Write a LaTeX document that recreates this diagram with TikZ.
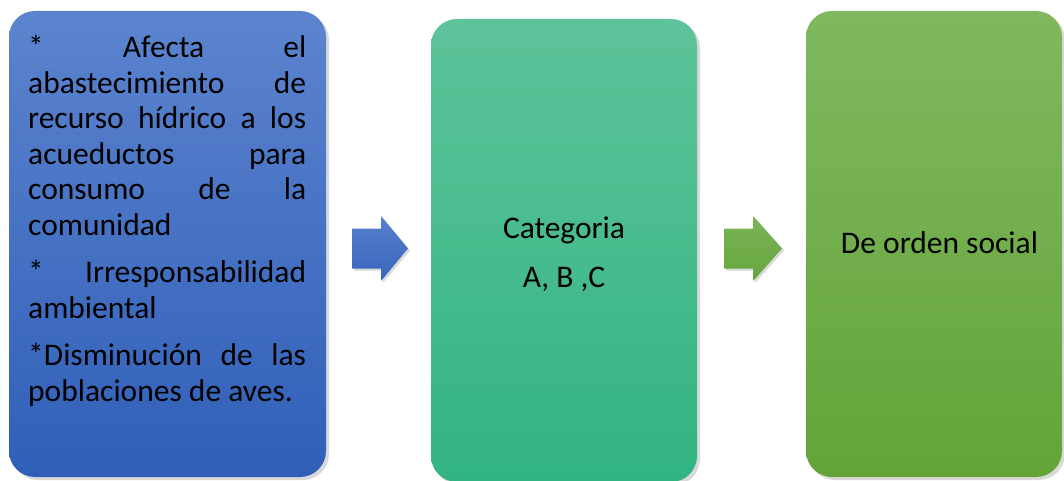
\documentclass[tikz,border=0pt]{standalone}
\usepackage{fontspec}
\setmainfont{Carlito}
\usetikzlibrary{calc,shadows,positioning}

\definecolor{azulA}{HTML}{5C84CE}
\definecolor{azulB}{HTML}{2F5FB8}
\definecolor{verdeA}{HTML}{5EC39A}
\definecolor{verdeB}{HTML}{32B482}
\definecolor{pastoA}{HTML}{80B860}
\definecolor{pastoB}{HTML}{63A438}

\tikzset{
	caja/.style={rounded corners=26pt, inner sep=0pt,
		drop shadow={shadow xshift=3pt, shadow yshift=-3pt, opacity=.3}},
	flecha/.style={drop shadow={shadow xshift=2pt, shadow yshift=-2pt, opacity=.3}},
	texto/.style={inner sep=0pt, font=\fontsize{31.5}{35.5}\selectfont},
}

\begin{document}
\begin{tikzpicture}[x=1pt,y=-1pt]
			          \useasboundingbox (0,0) rectangle (1064,481);
			          % cajas
			          \node[caja, minimum width=317pt, minimum height=466pt, top color=azulA, bottom color=azulB] (causa) at (167.5,244) {};
			          \node[caja, minimum width=266pt, minimum height=463pt, top color=verdeA, bottom color=verdeB] (categoria) at (564,250.5) {};
			          \node[caja, minimum width=256pt, minimum height=466pt, top color=pastoA, bottom color=pastoB] (orden) at (934,244) {};
			          % flechas
			          \path[flecha, top color=azulA!90!azulB, bottom color=azulB!80!azulA] (352,228.5) -- (381,228.5) -- (381,216) -- (408,248.5) -- (381,281) -- (381,268.5) -- (352,268.5) -- cycle;
			          \path[flecha, top color=pastoA!80!pastoB, bottom color=pastoB!90!pastoA] (724,228.5) -- (753,228.5) -- (753,216) -- (782,248.5) -- (753,281) -- (753,268.5) -- (724,268.5) -- cycle;
			          % textos
			          \node[texto, text width=278pt, align=justify, anchor=north west] (lista) at (28,35) {%
			          	* Afecta el\linebreak abastecimiento de\linebreak recurso hídrico a los\linebreak acueductos para\linebreak consumo de la\linebreak comunidad\par\vspace{12pt}
			          	* Irresponsabilidad\linebreak ambiental\par\vspace{12pt}
			          	*Disminución de las\linebreak poblaciones de aves.};
			          \node[texto, align=center, anchor=north] (cat) at (564,216.5) {Categoria\\[13.5pt]A, B ,C};
			          \node[texto, anchor=base] (social) at (939.5,253) {De orden social};
\end{tikzpicture}
\end{document}
